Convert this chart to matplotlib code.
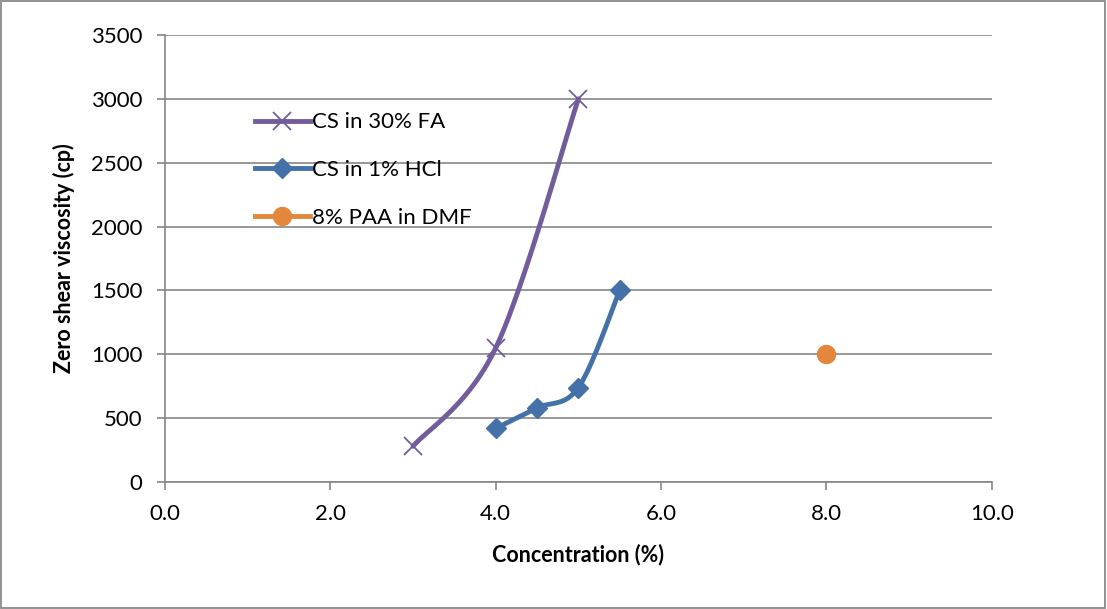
import numpy as np
import matplotlib
matplotlib.use('Agg')
import matplotlib.pyplot as plt
from matplotlib.patches import Rectangle

plt.rcParams['font.family'] = ['Lato', 'DejaVu Sans']

fa_x = [3.0, 4.0, 5.0]
fa_y = [280, 1050, 3000]
hcl_x = [4.0, 4.5, 5.0, 5.5]
hcl_y = [420, 580, 740, 1500]
paa_x = [8.0]
paa_y = [1000]

labels = ['CS in 30% FA', 'CS in 1% HCl', '8% PAA in DMF']
colors = ['#725C9B', '#4472A8', '#E2873B']


def smooth(xs, ys, n=40):
    # Catmull-Rom style smoothing, similar to the spreadsheet "smoothed line"
    p = np.column_stack([xs, ys]).astype(float)
    if len(p) < 3:
        return p[:, 0], p[:, 1]
    ext = np.vstack([p[0], p, p[-1]])
    out = []
    t = np.linspace(0, 1, n)
    for i in range(1, len(ext) - 2):
        p0, p1, p2, p3 = ext[i - 1], ext[i], ext[i + 1], ext[i + 2]
        c1 = p1 + (p2 - p0) / 6
        c2 = p2 - (p3 - p1) / 6
        seg = ((1 - t) ** 3)[:, None] * p1 + (3 * (1 - t) ** 2 * t)[:, None] * c1 \
            + (3 * (1 - t) * t ** 2)[:, None] * c2 + (t ** 3)[:, None] * p2
        out.append(seg)
    out = np.vstack(out)
    return out[:, 0], out[:, 1]


fig = plt.figure(figsize=(11.07, 6.09), dpi=100)
ax = fig.add_axes([0.149, 0.2085, 0.747, 0.734])

lw = 3.5
sx, sy = smooth(fa_x, fa_y)
ax.plot(sx, sy, color=colors[0], lw=lw, solid_capstyle='round', zorder=3)
ax.plot(fa_x, fa_y, ls='none', marker='x', ms=13, mew=1.3, color=colors[0], zorder=4)
ax.plot([], [], color=colors[0], lw=lw, marker='x', ms=13, mew=1.3, label=labels[0])

sx, sy = smooth(hcl_x, hcl_y)
ax.plot(sx, sy, color=colors[1], lw=lw, solid_capstyle='round', zorder=3)
ax.plot(hcl_x, hcl_y, ls='none', marker='D', ms=10, color=colors[1], zorder=4)
ax.plot([], [], color=colors[1], lw=lw, marker='D', ms=10, label=labels[1])

ax.plot(paa_x, paa_y, ls='none', marker='o', ms=13, color=colors[2], zorder=4)
ax.plot([], [], color=colors[2], lw=lw, marker='o', ms=13, label=labels[2])

ax.set_xlim(0, 10)
ax.set_ylim(0, 3500)
ax.set_xticks(np.arange(0, 10.1, 2))
ax.set_xticklabels([f'{v:.1f}' for v in np.arange(0, 10.1, 2)])
ax.set_yticks(np.arange(0, 3501, 500))
ax.yaxis.grid(True, color='#868686', lw=1.2)
ax.set_axisbelow(True)
for s in ['top', 'right']:
    ax.spines[s].set_visible(False)
for s in ['left', 'bottom']:
    ax.spines[s].set_color('#868686')
    ax.spines[s].set_linewidth(1.2)
ax.tick_params(axis='both', colors='#868686', labelcolor='black', labelsize=16,
               length=6, width=1.2, direction='out')
ax.tick_params(axis='x', pad=10)
ax.tick_params(axis='y', pad=10)

ax.set_xlabel('Concentration (%)', fontsize=15.5, fontweight='bold', labelpad=14)
ax.set_ylabel('Zero shear viscosity (cp)', fontsize=15.5, fontweight='bold', labelpad=12)

leg = ax.legend(loc='upper left', bbox_to_anchor=(0.222, 0.83), bbox_transform=fig.transFigure,
                frameon=False, fontsize=16, handlelength=2.5, handletextpad=0.1,
                labelspacing=1.25, borderaxespad=0)

fig.patches.append(Rectangle((0.001, 0.002), 0.997, 0.996, transform=fig.transFigure,
                             fill=False, edgecolor='#898989', lw=1.3))

fig.savefig('out.png', dpi=100)
